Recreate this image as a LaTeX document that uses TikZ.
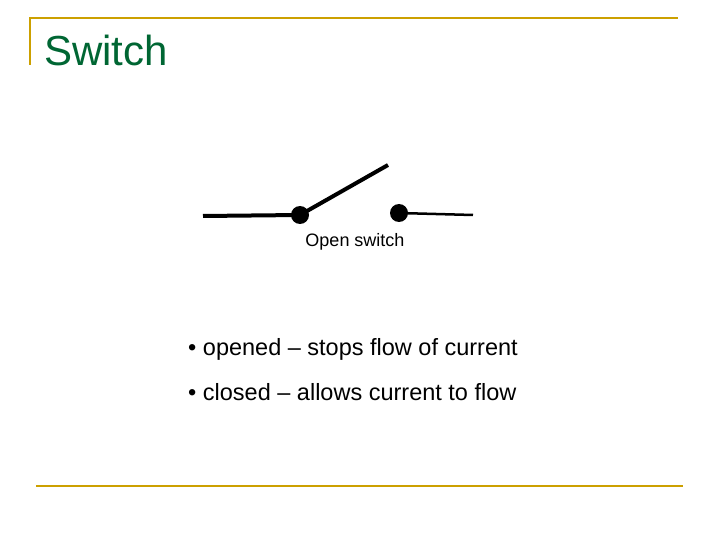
\documentclass[tikz,border=0pt]{standalone}
\usepackage{fontspec}
\setmainfont{Liberation Sans}
\usetikzlibrary{positioning}
\definecolor{gold}{RGB}{204,160,0}
\definecolor{titlegreen}{RGB}{0,102,51}
\tikzstyle{rule} = [draw=gold, line width=2.5pt]
\tikzstyle{wire} = [draw, line width=4pt]
\tikzstyle{terminal} = [circle, fill, inner sep=0pt, minimum size=18pt]
\tikzstyle{bullet} = [anchor=west, font=\fontsize{23.5}{28}\selectfont]
\begin{document}
\begin{tikzpicture}[x=1pt, y=-1pt]
  \useasboundingbox (0,0) rectangle (720,540);
  % frame
  \draw [rule] (30,65) -- (30,18) -- (678,18);
  \draw [rule] (36,486) -- (683,486);
  \node [anchor=base west, text=titlegreen, font=\fontsize{42}{48}\selectfont, inner sep=0pt] (title) at (44,66) {Switch};

  % switch symbol
  \node [terminal] (left) at (300,215) {};
  \node [terminal] (right) at (399,213) {};
  \coordinate (inlead) at (203,216);
  \coordinate (outlead) at (473,215);
  \coordinate (lever) at (388,165);
  \path [wire] (inlead) -- (left.center);
  \path [wire] (left.center) -- (lever);
  \path [draw, line width=2.5pt] (right.center) -- (outlead);
  \node [font=\fontsize{18}{21}\selectfont] (caption) at (355,242) {Open switch};

  % notes
  \node [bullet, inner sep=0pt] (opened) at (188,349) {• opened – stops flow of current};
  \node [bullet, inner sep=0pt] (closed) at (188,392) {• closed – allows current to flow};
\end{tikzpicture}
\end{document}
